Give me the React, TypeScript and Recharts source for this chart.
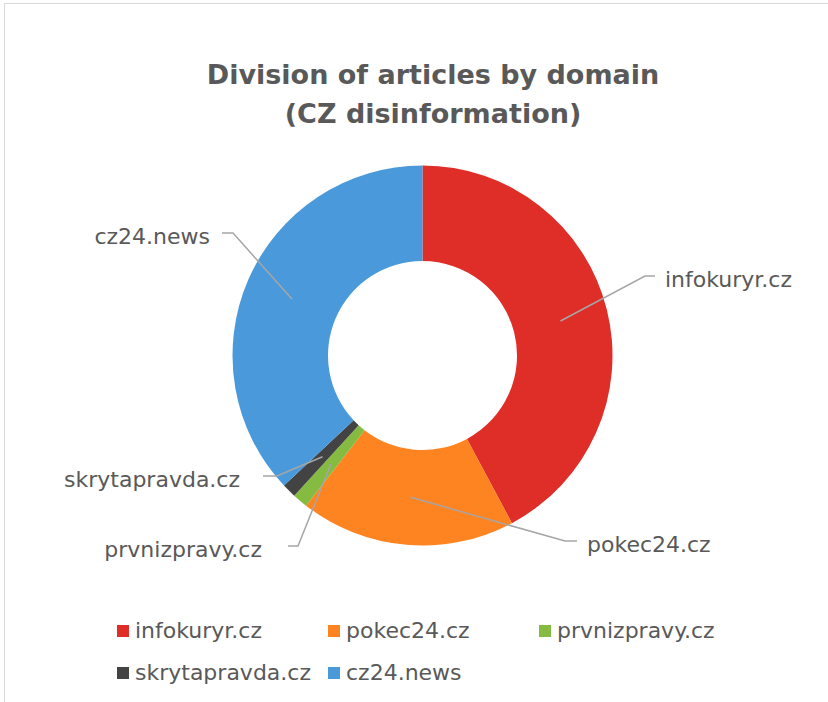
import { PieChart, Pie, Cell, Legend } from "recharts";

const domains = ["infokuryr.cz", "pokec24.cz", "prvnizpravy.cz", "skrytapravda.cz", "cz24.news"];
const shares = [42.2, 18.3, 1.3, 1.2, 37.0];
const colors = ["#DF2D28", "#FD8420", "#85BB41", "#434343", "#4A9ADB"];

const data = domains.map((name, i) => ({ name, value: shares[i] }));

// where each data label sits, relative to the pie centre
const labelLayout = [
  { elbowX: 222.5, lineY: -79.5, endX: 232.5, textX: 242.5, anchor: "start" },
  { elbowX: 142.5, lineY: 185.5, endX: 154.5, textX: 164.5, anchor: "start" },
  { elbowX: -124.5, lineY: 190.5, endX: -134.5, textX: -160.5, anchor: "end" },
  { elbowX: -145.5, lineY: 120.5, endX: -159.5, textX: -182.5, anchor: "end" },
  { elbowX: -189.5, lineY: -122.5, endX: -200.5, textX: -212.5, anchor: "end" },
];

const FONT = "'DejaVu Sans', sans-serif";
const TEXT = "#595959";
const RADIAN = Math.PI / 180;

function renderLabel(props: any) {
  const { cx, cy, midAngle, innerRadius, outerRadius, index, name } = props;
  const r = (innerRadius + outerRadius) / 2;
  const px = cx + r * Math.cos(-midAngle * RADIAN);
  const py = cy + r * Math.sin(-midAngle * RADIAN);
  const l = labelLayout[index];
  const ly = cy + l.lineY;
  return (
    <g key={name}>
      <polyline
        points={`${px},${py} ${cx + l.elbowX},${ly} ${cx + l.endX},${ly}`}
        fill="none"
        stroke="#A6A6A6"
        strokeWidth={1.5}
      />
      <text
        x={cx + l.textX}
        y={ly + 3}
        textAnchor={l.anchor}
        dominantBaseline="central"
        fontFamily={FONT}
        fontSize={22}
        fill={TEXT}
      >
        {name}
      </text>
    </g>
  );
}

function LegendBox({ payload }: any) {
  const items = [...(payload || [])].sort(
    (a: any, b: any) => domains.indexOf(a.value) - domains.indexOf(b.value)
  );
  return (
    <div
      style={{
        display: "grid",
        gridTemplateColumns: "211px 211px 211px",
        rowGap: 15,
        paddingLeft: 117,
      }}
    >
      {items.map((p: any) => (
        <div key={p.value} style={{ display: "flex", alignItems: "center", height: 27 }}>
          <span style={{ width: 12, height: 12, background: p.color, marginRight: 6 }} />
          <span style={{ fontFamily: FONT, fontSize: 22, color: TEXT, whiteSpace: "nowrap" }}>
            {p.value}
          </span>
        </div>
      ))}
    </div>
  );
}

export default function App() {
  return (
    <div style={{ position: "absolute", left: 0, top: 0, width: 828, height: 702, background: "#fff", overflow: "hidden" }}>
      {/* chart frame, only top and left edges are in view */}
      <div
        style={{
          position: "absolute",
          left: 4,
          top: 3,
          width: 900,
          height: 800,
          borderLeft: "1.5px solid #D9D9D9",
          borderTop: "1.5px solid #D9D9D9",
        }}
      />
      <div
        style={{
          position: "absolute",
          left: 0,
          top: 55,
          width: 866,
          textAlign: "center",
          fontFamily: FONT,
          fontWeight: "bold",
          fontSize: 27,
          lineHeight: "39px",
          color: TEXT,
        }}
      >
        Division of articles by domain
        <br />
        (CZ disinformation)
      </div>
      <div style={{ position: "absolute", left: 0, top: 0 }}>
        <PieChart width={828} height={702} margin={{ top: 0, right: 0, bottom: 0, left: 0 }}>
          <Pie
            data={data}
            dataKey="value"
            nameKey="name"
            cx={422.5}
            cy={355.5}
            innerRadius={94.5}
            outerRadius={190}
            startAngle={90}
            endAngle={-270}
            stroke="none"
            label={renderLabel}
            labelLine={false}
            isAnimationActive={false}
          >
            {data.map((d, i) => (
              <Cell key={d.name} fill={colors[i]} />
            ))}
          </Pie>
          <Legend
            content={<LegendBox />}
            wrapperStyle={{ position: "absolute", left: 0, top: 617, width: 828 }}
          />
        </PieChart>
      </div>
    </div>
  );
}
